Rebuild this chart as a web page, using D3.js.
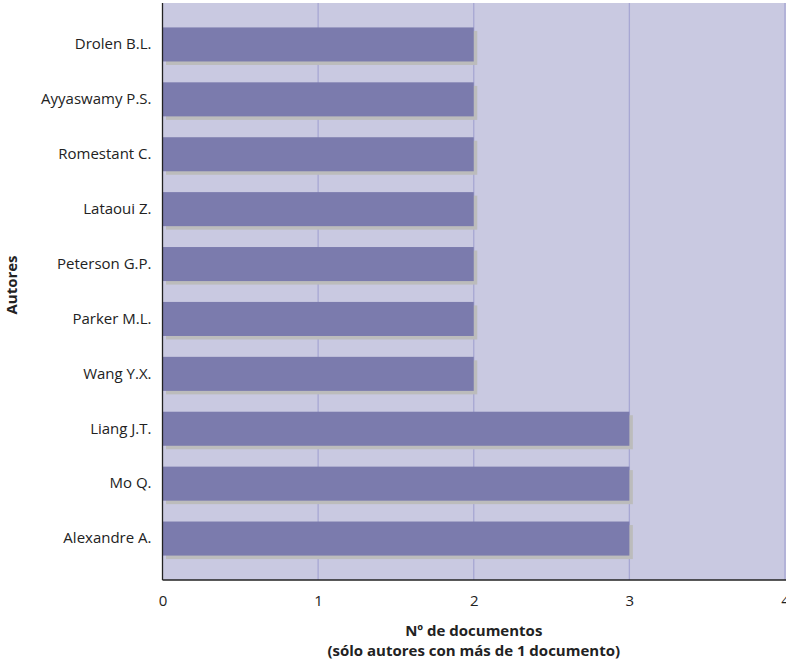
<!DOCTYPE html>
<html><head><meta charset="utf-8">
<script src="https://cdn.jsdelivr.net/npm/d3@7"></script>
<style>
body{margin:0;background:#fff;}
text{font-family:"Open Sans","Noto Sans",sans-serif;fill:#222;}
</style></head>
<body><svg id="c" width="786" height="669"></svg>
<script>
const authors = ["Drolen B.L.","Ayyaswamy P.S.","Romestant C.","Lataoui Z.","Peterson G.P.","Parker M.L.","Wang Y.X.","Liang J.T.","Mo Q.","Alexandre A."];
const documents = [2,2,2,2,2,2,2,3,3,3];
const xTicks = [0,1,2,3,4];
const xTitle = ["Nº de documentos","(sólo autores con más de 1 documento)"];
const yTitle = "Autores";

const svg = d3.select("#c");
const mLeft = 162.5, mRight = 785, mTop = 3, mBottom = 580;
const x = d3.scaleLinear().domain([0,4]).range([mLeft,mRight]);
const y = d3.scaleBand().domain(authors).range([mTop,mBottom]).paddingInner(0.38).paddingOuter(0.445);

svg.append("rect").attr("x",mLeft).attr("y",mTop).attr("width",800-mLeft).attr("height",mBottom-mTop).attr("fill","#c9c9e1");

svg.append("g").selectAll("line").data(xTicks.filter(d=>d>0)).join("line")
  .attr("x1",d=>x(d)).attr("x2",d=>x(d)).attr("y1",mTop).attr("y2",mBottom)
  .attr("stroke","#a7a7d3").attr("stroke-width",1.3);

const data = authors.map((a,i)=>({a,v:documents[i]}));
svg.append("g").selectAll("rect").data(data).join("rect")
  .attr("x",x(0)+3.5).attr("y",d=>y(d.a)+3.5).attr("width",d=>x(d.v)-x(0)).attr("height",y.bandwidth())
  .attr("fill","#bcbcbc");
svg.append("g").selectAll("rect").data(data).join("rect")
  .attr("x",x(0)).attr("y",d=>y(d.a)).attr("width",d=>x(d.v)-x(0)).attr("height",y.bandwidth())
  .attr("fill","#7b7bad");

const yAxis = svg.append("g").attr("transform",`translate(${mLeft},0)`)
  .call(d3.axisLeft(y).tickSize(0).tickPadding(11));
yAxis.select(".domain").remove();
yAxis.selectAll("text").style("font-size","15px").attr("fill","#222");
svg.append("line").attr("x1",mLeft).attr("x2",mLeft).attr("y1",mTop).attr("y2",mBottom).attr("stroke","#222").attr("stroke-width",1.3);

const xAxis = svg.append("g").attr("transform",`translate(0,${mBottom})`)
  .call(d3.axisBottom(x).tickValues(xTicks).tickSize(0).tickPadding(15).tickFormat(d3.format("d")));
xAxis.select(".domain").remove();
xAxis.selectAll("text").style("font-size","15px").attr("fill","#222");
svg.append("line").attr("x1",mLeft).attr("x2",790).attr("y1",mBottom).attr("y2",mBottom).attr("stroke","#222").attr("stroke-width",1.3);

svg.append("text").attr("x",(mLeft+mRight)/2).attr("y",636).attr("text-anchor","middle")
  .style("font-size","15px").style("font-weight","bold").text(xTitle[0]);
svg.append("text").attr("x",(mLeft+mRight)/2).attr("y",656).attr("text-anchor","middle")
  .style("font-size","15px").style("font-weight","bold").text(xTitle[1]);
svg.append("text").attr("transform","translate(17,285) rotate(-90)").attr("text-anchor","middle")
  .style("font-size","15px").style("font-weight","bold").text(yTitle);
</script></body></html>
